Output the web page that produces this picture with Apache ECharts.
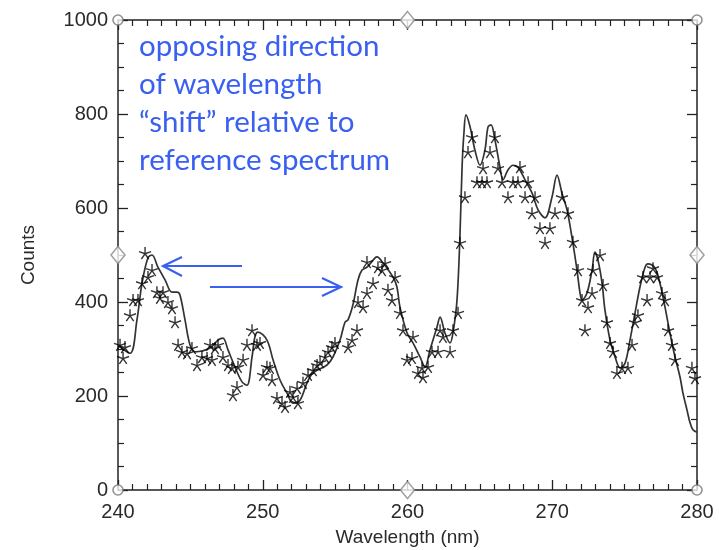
<!DOCTYPE html>
<html>
<head>
<meta charset="utf-8">
<script src="https://cdn.jsdelivr.net/npm/echarts@6/dist/echarts.min.js"></script>
<style>
html,body{margin:0;padding:0;background:#fff;}
#chart{width:719px;height:550px;}
</style>
</head>
<body>
<div id="chart"></div>
<script>
// Reference spectrum (solid line)
var refX = [240.0,240.83,241.31,241.66,242.07,242.35,242.76,243.25,243.73,244.08,244.28,244.63,244.97,245.32,246.36,246.91,247.25,247.60,248.08,248.57,248.91,249.26,249.46,249.67,250.29,250.71,251.19,251.68,252.09,252.57,253.06,253.47,254.44,254.85,255.34,255.68,255.89,256.23,256.58,256.86,257.20,257.76,257.89,258.31,259.00,259.27,259.48,259.97,260.38,260.86,261.21,261.55,262.04,262.25,262.59,262.94,263.14,263.42,263.63,263.77,263.90,264.04,264.32,264.66,265.01,265.35,265.56,265.77,266.04,266.39,266.60,266.94,267.29,267.63,268.12,268.60,269.02,269.50,269.98,270.33,270.67,271.02,271.36,271.71,271.92,272.06,272.40,272.75,272.95,273.16,273.44,273.64,273.99,274.34,274.68,275.03,275.37,275.72,276.06,276.41,276.61,277.10,277.44,277.79,278.13,278.48,278.83,279.03,279.31,279.52,279.72,280.0];
var refY = [308,291,362,440,494,500,474,447,421,421,415,362,309,294,302,319,323,298,262,230,223,283,326,336,319,277,234,206,185,191,228,249,266,283,319,357,362,394,447,468,474,494,496,483,453,432,389,334,313,283,262,298,347,368,334,313,334,404,547,687,760,798,773,723,691,723,772,777,745,687,660,681,691,687,660,632,596,579,623,670,632,596,538,468,419,404,419,468,506,489,440,383,319,283,260,270,319,377,432,474,481,472,440,389,334,283,240,206,170,143,128,123];

// Observed spectrum (asterisks)
var obsX = [240.14,240.35,240.48,240.83,241.04,241.38,241.66,241.87,242.07,242.35,242.69,242.90,243.11,243.45,243.73,243.94,244.15,244.42,244.77,245.11,245.46,245.80,246.15,246.36,246.49,246.70,246.91,247.25,247.60,247.87,247.94,248.22,248.29,248.64,248.91,249.26,249.60,249.81,250.02,250.29,250.50,250.64,250.98,251.33,251.54,251.88,252.09,252.37,252.43,252.78,253.13,253.47,253.75,253.96,254.30,254.51,254.78,254.99,255.89,256.17,256.51,256.58,256.93,257.20,257.20,257.62,257.96,258.24,258.45,258.65,258.93,259.14,259.48,259.69,259.97,260.31,260.38,260.72,261.00,261.07,261.42,261.69,262.11,262.25,262.45,262.94,263.14,263.49,263.63,263.97,264.18,264.46,264.80,265.15,265.22,265.49,265.70,266.04,266.25,266.53,266.94,267.29,267.63,267.77,268.12,268.33,268.60,268.81,269.15,269.50,269.84,270.19,270.67,271.09,271.43,271.78,272.06,272.26,272.47,272.75,272.82,273.30,273.51,273.78,273.99,274.20,274.47,274.82,275.23,275.51,275.72,275.92,276.27,276.55,276.76,276.96,277.24,277.58,277.79,278.00,278.27,278.48,279.65,279.86];
var obsY = [309,281,304,372,404,404,440,504,453,468,421,409,421,400,387,357,309,294,291,302,266,283,281,309,277,302,309,283,266,260,202,219,262,277,309,340,309,313,245,262,260,234,196,185,177,209,198,217,185,228,245,255,266,272,283,294,304,313,304,319,340,400,389,419,485,440,474,468,483,426,404,453,377,340,277,281,326,249,260,240,262,294,294,340,326,294,340,377,526,623,719,751,655,655,685,655,719,751,685,655,623,655,655,687,623,655,589,623,557,526,557,589,623,589,528,468,404,340,389,419,468,500,436,357,313,294,249,260,260,309,357,372,453,404,453,472,453,419,404,340,309,277,260,238];

// Axis ticks
var xTicks = [240,250,260,270,280];
var yTicks = [0,200,400,600,800,1000];

// Frame decorations (axis end / midpoint markers)
var circlePts = [[240,0],[280,0],[240,1000],[280,1000]];
var diamondPts = [[260,0],[260,1000],[240,500],[280,500]];

var refData = refX.map(function(x,i){return [x, refY[i]];});
var obsData = obsX.map(function(x,i){return [x, obsY[i]];});

var axisCol = '#222';
var labelFont = {fontFamily:'Liberation Sans, Arial, sans-serif', fontSize:20, color:'#2a2a2a'};

function xAx(pos, show){
  return {
    type:'value', position:pos, min:240, max:280, interval:10,
    axisLine:{show:true, onZero:false, lineStyle:{color:axisCol, width:1.5}},
    axisTick:{show:true, inside:true, length:10, lineStyle:{color:axisCol, width:1.3}},
    minorTick:{show:true, splitNumber:10, length:6, lineStyle:{color:axisCol, width:1.2}},
    splitLine:{show:false},
    axisLabel:Object.assign({show:show, margin:12, formatter:function(v){return xTicks.indexOf(v)>=0? String(v):'';}}, labelFont),
    name: show ? 'Wavelength (nm)' : '',
    nameLocation:'middle', nameGap:38,
    nameTextStyle:{fontFamily:'Liberation Sans, Arial, sans-serif', fontSize:19, color:'#2a2a2a'}
  };
}
function yAx(pos, show){
  return {
    type:'value', position:pos, min:0, max:1000, interval:200,
    axisLine:{show:true, onZero:false, lineStyle:{color:axisCol, width:1.5}},
    axisTick:{show:true, inside:true, length:10, lineStyle:{color:axisCol, width:1.3}},
    minorTick:{show:true, splitNumber:4, length:6, lineStyle:{color:axisCol, width:1.2}},
    splitLine:{show:false},
    axisLabel:Object.assign({show:show, margin:10, formatter:function(v){return yTicks.indexOf(v)>=0? String(v):'';}}, labelFont),
    name: show ? 'Counts' : '',
    nameLocation:'middle', nameGap:80, nameRotate:90,
    nameTextStyle:{fontFamily:'Liberation Sans, Arial, sans-serif', fontSize:19, color:'#2a2a2a'}
  };
}

var chart = echarts.init(document.getElementById('chart'), null, {renderer:'canvas'});
var blue = '#3a60f2';
var starPath = 'path://M0,0L0,-5M0,0L4.76,-1.55M0,0L2.94,4.05M0,0L-2.94,4.05M0,0L-4.76,-1.55';

chart.setOption({
  animation:false,
  backgroundColor:'#ffffff',
  grid:{left:118, right:22, top:20, bottom:60, containLabel:false, outerBoundsMode:'none'},
  xAxis:[xAx('bottom', true), xAx('top', false)],
  yAxis:[yAx('left', true), yAx('right', false)],
  series:[
    {
      type:'line', data:refData, xAxisIndex:0, yAxisIndex:0,
      showSymbol:false, smooth:0.35,
      lineStyle:{color:'#333', width:1.7}, z:3
    },
    {
      type:'scatter', data:obsData, xAxisIndex:0, yAxisIndex:0,
      symbol:starPath, symbolSize:12,
      itemStyle:{color:'rgba(0,0,0,0)', borderColor:'#000', borderWidth:1.4}, z:4
    },
    {
      type:'scatter', data:circlePts, symbol:'circle', symbolSize:10, clip:false,
      itemStyle:{color:'#fff', borderColor:'#777', borderWidth:1.6}, z:6, silent:true
    },
    {
      type:'scatter', data:diamondPts, symbol:'diamond', symbolSize:[14,17], clip:false,
      itemStyle:{color:'#fff', borderColor:'#888', borderWidth:1.6}, z:6, silent:true
    }
  ],
  graphic:[
    {
      type:'text', left:139, top:27, z:10,
      style:{
        text:'opposing direction\nof wavelength\n\u201Cshift\u201D relative to\nreference spectrum',
        font:'29.5px Lato, "Open Sans", sans-serif', lineHeight:38, fill:blue
      }
    },
    {type:'polyline', z:10, shape:{points:[[242,266],[163,266]]}, style:{stroke:blue, lineWidth:2.2, fill:null}},
    {type:'polyline', z:10, shape:{points:[[182,257],[163,266],[182,276]]}, style:{stroke:blue, lineWidth:2.2, fill:null}},
    {type:'polyline', z:10, shape:{points:[[210,287],[341,287]]}, style:{stroke:blue, lineWidth:2.2, fill:null}},
    {type:'polyline', z:10, shape:{points:[[322,278],[341,287],[322,296]]}, style:{stroke:blue, lineWidth:2.2, fill:null}}
  ]
});
</script>
</body>
</html>
